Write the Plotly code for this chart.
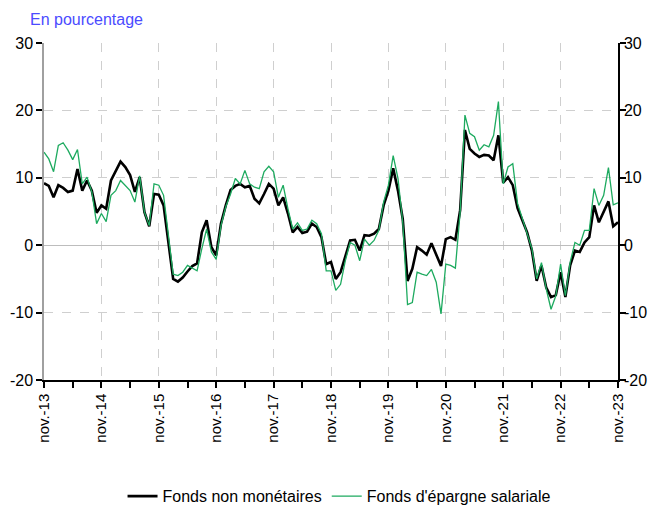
import plotly.graph_objects as go

years = ["13", "14", "15", "16", "17", "18", "19", "20", "21", "22", "23"]
tick_labels = ["nov.-" + y for y in years]
y_tick_values = [-20, -10, 0, 10, 20, 30]
y_tick_labels = ["-20", "-10", "0", "10", "20", "30"]

fonds_non_monetaires = [
    9.2, 8.8, 7.1, 8.9, 8.5, 7.9, 8.1, 11.3, 8.1, 9.6, 8.1, 4.8,
    5.9, 5.4, 9.6, 10.9, 12.4, 11.6, 10.4, 7.9, 10.1, 4.9, 2.8, 7.6,
    7.5, 5.9, 0.0, -5.0, -5.4, -4.8, -3.9, -3.1, -2.7, 1.9, 3.7, -0.3,
    -1.5, 3.2, 5.9, 8.2, 8.8, 9.1, 8.6, 8.8, 6.9, 6.2, 7.6, 9.1,
    8.4, 5.9, 7.1, 4.7, 1.9, 2.7, 1.8, 2.0, 3.2, 2.7, 1.2, -2.8,
    -2.5, -5.0, -4.0, -1.5, 0.7, 0.8, -0.8, 1.5, 1.4, 1.7, 2.4, 5.9,
    8.1, 11.4, 8.1, 3.9, -5.3, -3.5, -0.3, -0.8, -1.4, 0.3, -1.3, -3.1,
    0.9, 1.2, 0.8, 5.2, 17.1, 14.3, 13.6, 13.1, 13.4, 13.3, 12.6, 16.3,
    9.3, 10.1, 8.9, 5.5, 3.7, 1.9, -0.8, -5.3, -3.0, -6.3, -7.7, -7.4,
    -4.0, -7.7, -3.0, -0.8, -1.0, 0.4, 1.2, 5.9, 3.4, 4.9, 6.5, 2.8,
    3.4,
]

fonds_epargne_salariale = [
    13.8, 12.8, 10.9, 14.8, 15.2, 14.1, 12.7, 14.2, 9.1, 10.1, 7.9, 3.2,
    4.7, 3.5, 7.4, 8.1, 9.6, 8.9, 8.1, 6.4, 10.3, 4.9, 2.9, 9.1,
    8.9, 7.4, 1.4, -4.3, -4.5, -4.0, -3.0, -3.4, -3.8, -0.5, 2.4, -1.0,
    -2.1, 2.9, 5.7, 7.6, 9.9, 9.1, 11.1, 9.1, 8.6, 8.4, 10.9, 11.7,
    10.9, 7.1, 8.9, 5.4, 2.4, 3.3, 2.2, 2.4, 3.7, 3.2, 1.7, -3.8,
    -3.8, -6.7, -5.8, -2.3, 0.4, 0.0, -2.3, 0.9, 0.0, 0.7, 2.2, 6.4,
    8.9, 13.3, 9.9, 3.4, -8.8, -8.5, -4.0, -4.3, -4.5, -3.6, -5.5, -10.2,
    -2.8, -3.0, -3.4, 4.9, 19.3, 16.6, 16.1, 14.1, 14.9, 14.6, 16.3, 21.3,
    9.1, 11.6, 12.1, 6.2, 3.9, 1.9, -0.5, -5.0, -2.6, -6.5, -9.5, -7.5,
    -2.8, -7.5, -2.5, 0.4, 0.0, 2.2, 2.2, 8.4, 5.9, 7.4, 11.5, 6.0,
    6.3,
]

months = list(range(len(fonds_non_monetaires)))
tick_positions = list(range(0, 121, 12))

GREEN = "#1DAA5F"
GRID = "#CFCFCF"
FONT = "Liberation Sans, Arial, sans-serif"

fig = go.Figure()
fig.add_trace(go.Scatter(
    x=months, y=fonds_non_monetaires, mode="lines", name="Fonds non monétaires",
    line=dict(color="black", width=2.6),
))
fig.add_trace(go.Scatter(
    x=months, y=fonds_epargne_salariale, mode="lines", name="Fonds d'épargne salariale",
    line=dict(color=GREEN, width=1.3),
))
fig.add_trace(go.Scatter(
    x=months, y=fonds_non_monetaires, mode="lines", yaxis="y2",
    line=dict(color="rgba(0,0,0,0)", width=0), showlegend=False, hoverinfo="skip",
))

yax = dict(
    range=[-20, 30], tickmode="array", tickvals=y_tick_values, ticktext=y_tick_labels,
    showgrid=True, gridcolor=GRID, griddash="dash", gridwidth=1,
    zeroline=True, zerolinecolor="#BDBDBD", zerolinewidth=1,
    ticks="outside", ticklen=6, tickcolor="black", tickwidth=2,
    tickfont=dict(size=16, color="black", family=FONT),
    showline=True, fixedrange=True,
)

fig.update_layout(
    width=656, height=507,
    margin=dict(l=36, r=46, t=35, b=135, autoexpand=False),
    paper_bgcolor="white", plot_bgcolor="white",
    font=dict(family=FONT, size=16, color="black"),
    xaxis=dict(
        range=[0, 120],
        tickmode="array", tickvals=tick_positions, ticktext=tick_labels,
        tickangle=-90,
        ticks="outside", ticklen=6, tickcolor="black", tickwidth=2,
        tickfont=dict(size=15, color="black", family=FONT),
        showgrid=True, gridcolor=GRID, griddash="dash", gridwidth=1,
        showline=True, linecolor="black", linewidth=1.5,
        zeroline=False, automargin=False,
        minor=dict(tickmode="linear", tick0=6, dtick=12, ticks="outside",
                   ticklen=6, tickcolor="black", tickwidth=2, showgrid=False),
    ),
    yaxis=dict(**yax, linecolor="#A0A0A0", linewidth=1.5, automargin=False),
    yaxis2=dict(**yax, overlaying="y", side="right", linecolor="black", linewidth=1.5,
                automargin=False, ticklabelstandoff=-5),
    legend=dict(
        orientation="h", x=0.514, xanchor="center", y=-0.345, yanchor="middle",
        font=dict(size=16, color="black", family=FONT),
        itemwidth=30, traceorder="normal",
    ),
    annotations=[dict(
        text="En pourcentage", xref="paper", yref="paper",
        x=-0.028, y=1.0, xanchor="left", yanchor="middle", yshift=24,
        showarrow=False, font=dict(size=16, color="#4B4BFF", family=FONT),
    )],
)

fig.write_html("out.html")
